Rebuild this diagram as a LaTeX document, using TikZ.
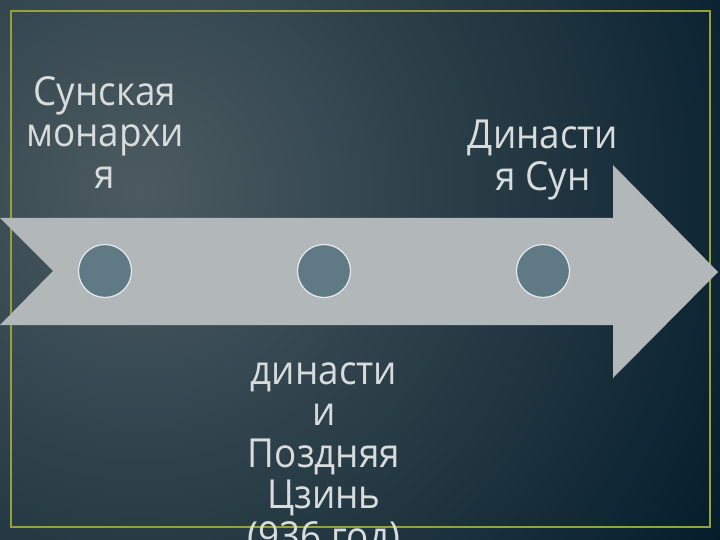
\documentclass[tikz,border=0pt]{standalone}
\usepackage{fontspec}
\setmainfont{Open Sans}[FakeStretch=0.92]
\usepackage{tikz}
\usetikzlibrary{positioning}
\definecolor{bgdark}{HTML}{041D2B}
\definecolor{bglight}{HTML}{4C5B61}
\definecolor{framecol}{HTML}{98A03A}
\definecolor{arrowcol}{HTML}{B2B7BA}
\definecolor{dotcol}{HTML}{5F7A85}
\definecolor{textcol}{HTML}{D8DCDD}
\tikzset{
	x=1pt,
	y=-1pt,
	label text/.style={anchor=north, inner sep=0pt, align=center, text=textcol,
		font=\fontsize{40}{41.5}\selectfont},
	dot/.style={circle, fill=dotcol, draw=white!85!dotcol, line width=1.2pt,
		minimum size=53pt, inner sep=0pt},
}

\begin{document}
\begin{tikzpicture}
	\useasboundingbox (0,0) rectangle (720,540);
	\clip (0,0) rectangle (720,540);
	% background
	\fill[bgdark] (0,0) rectangle (720,540);
	\shade[inner color=bglight, outer color=bgdark] (140,190) circle (680);
	\draw[framecol, line width=1.5pt] (11,11) rectangle (710,527);

	% big arrow
	\fill[arrowcol] (0,218) -- (613,218) -- (613,165) -- (718,272)
		-- (613,378) -- (613,325) -- (0,325) -- (53,271) -- cycle;

	\node[dot] (d1) at (105,271) {};
	\node[dot] (d2) at (324,271) {};
	\node[dot] (d3) at (543,271) {};

	\node[label text] (song) at (105,76) {Сунская\\монархи\\я};
	\node[label text] (jin) at (324,362) {династи\\и\\Поздняя\\Цзинь\\(936 год)};
	\node[label text] (dyn) at (543,120) {Династи\\я Сун};
\end{tikzpicture}
\end{document}
